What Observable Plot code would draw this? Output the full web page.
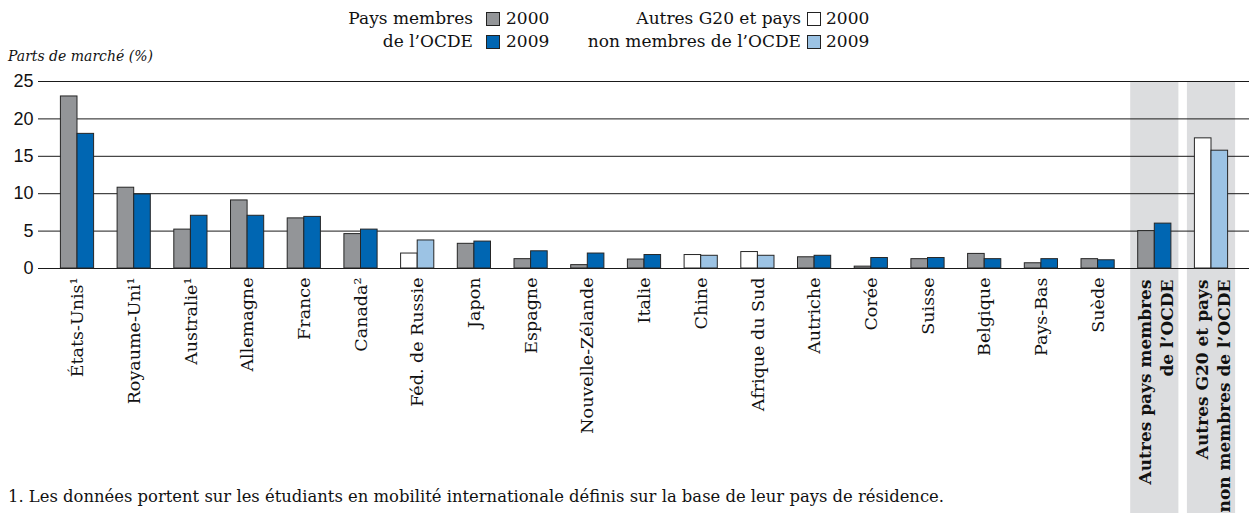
<!DOCTYPE html>
<html>
<head>
<meta charset="utf-8">
<script src="https://cdn.jsdelivr.net/npm/d3@7"></script>
<script src="https://cdn.jsdelivr.net/npm/@observablehq/plot@0.6"></script>
<style>
  html, body { margin: 0; padding: 0; background: #fff; }
  #wrap { position: relative; width: 1249px; height: 515px; font-family: "DejaVu Serif", serif; color: #111; }
  #wrap svg { position: absolute; left: 0; top: 0; }
  .ov { position: absolute; white-space: nowrap; }
  .sw { position: absolute; width: 12px; height: 12px; border: 1px solid #222; box-sizing: content-box; }
</style>
</head>
<body>
<div id="wrap"></div>
<script>
// ---- Data ----
const categories = [
  "États-Unis¹", "Royaume-Uni¹", "Australie¹", "Allemagne", "France", "Canada²",
  "Féd. de Russie", "Japon", "Espagne", "Nouvelle-Zélande", "Italie", "Chine",
  "Afrique du Sud", "Autriche", "Corée", "Suisse", "Belgique", "Pays-Bas", "Suède",
  "Autres pays membres\nde l’OCDE", "Autres G20 et pays\nnon membres de l’OCDE"
];
const values2000 = [23.0, 10.8, 5.2, 9.1, 6.7, 4.6, 2.0, 3.3, 1.25, 0.45, 1.2, 1.8, 2.2, 1.5, 0.25, 1.25, 1.95, 0.7, 1.25, 5.0, 17.4];
const values2009 = [18.0, 9.9, 7.05, 7.05, 6.9, 5.2, 3.75, 3.6, 2.3, 2.0, 1.8, 1.7, 1.7, 1.7, 1.4, 1.4, 1.25, 1.25, 1.1, 6.0, 15.75];
const nonMembers = ["Féd. de Russie", "Chine", "Afrique du Sud", "Autres G20 et pays\nnon membres de l’OCDE"];
const aggregates = ["Autres pays membres\nde l’OCDE", "Autres G20 et pays\nnon membres de l’OCDE"];
const yTicks = [0, 5, 10, 15, 20, 25];
const legendGroups = [
  {label: "Pays membres\nde l’OCDE", years: ["2000", "2009"], colors: ["#939598", "#0066b2"]},
  {label: "Autres G20 et pays\nnon membres de l’OCDE", years: ["2000", "2009"], colors: ["#ffffff", "#9cc3e4"]}
];
const yTitle = "Parts de marché (%)";
const footnote = "1. Les données portent sur les étudiants en mobilité internationale définis sur la base de leur pays de résidence.";

// ---- Build rows ----
const rows = categories.map((c, i) => ({cat: c, v2000: values2000[i], v2009: values2009[i], member: !nonMembers.includes(c)}));
const members = rows.filter(d => d.member);
const others = rows.filter(d => !d.member);
const countries = categories.filter(c => !aggregates.includes(c));

const stroke = "#262626";
const bw = 48.2, bar = 16.6, side = bw / 2 - bar;

const chart = Plot.plot({
  width: 1249,
  height: 515,
  marginTop: 81,
  marginBottom: 247,
  marginLeft: 38,
  marginRight: 0,
  x: {domain: categories, range: [44.4, 1243.6], padding: 0.15, round: false, axis: null},
  y: {domain: [0, 25], axis: null},
  style: {fontFamily: "DejaVu Serif, serif", background: "transparent", overflow: "visible", color: "#111"},
  marks: [
    Plot.barY(aggregates, {x: d => d, y1: 0, y2: 25, fill: "#dcdddf", insetBottom: -245}),
    Plot.ruleY(yTicks, {stroke: "#1a1a1a", strokeWidth: 1}),
    Plot.barY(members, {x: "cat", y: "v2000", fill: "#939598", stroke, strokeWidth: 1, insetLeft: side, insetRight: bw / 2}),
    Plot.barY(members, {x: "cat", y: "v2009", fill: "#0066b2", stroke, strokeWidth: 1, insetLeft: bw / 2, insetRight: side}),
    Plot.barY(others, {x: "cat", y: "v2000", fill: "#ffffff", stroke, strokeWidth: 1, insetLeft: side, insetRight: bw / 2}),
    Plot.barY(others, {x: "cat", y: "v2009", fill: "#9cc3e4", stroke, strokeWidth: 1, insetLeft: bw / 2, insetRight: side}),
    Plot.text(yTicks, {y: d => d, text: d => String(d), frameAnchor: "left", textAnchor: "end", dx: -5, fontSize: 18, fontFamily: "Liberation Sans, Arial, sans-serif", fill: "#111"}),
    Plot.text(countries, {x: d => d, text: d => d, frameAnchor: "bottom", rotate: -90, textAnchor: "end", lineAnchor: "middle", dy: 9, fontSize: 17.5, fill: "#111"}),
    Plot.text(aggregates, {x: d => d, text: d => d, frameAnchor: "bottom", rotate: -90, textAnchor: "end", lineAnchor: "middle", dy: 11, fontSize: 17, fontWeight: "bold", lineHeight: 1.3, fill: "#111"})
  ]
});

const wrap = document.getElementById("wrap");
wrap.appendChild(chart);

// ---- Overlays: legend, y title, footnote ----
function addDiv(html, css) {
  const d = document.createElement("div");
  d.className = "ov";
  d.innerHTML = html;
  Object.assign(d.style, css);
  wrap.appendChild(d);
  return d;
}
const legendPos = [
  {textRight: 473, swX: 486, yearX: 506},
  {textRight: 801, swX: 807, yearX: 826}
];
legendGroups.forEach((g, i) => {
  const p = legendPos[i];
  addDiv(g.label.replace("\n", "<br>"), {right: (1249 - p.textRight) + "px", top: "7px", textAlign: "right", fontSize: "17px", lineHeight: "23px"});
  g.years.forEach((y, j) => {
    const s = document.createElement("div");
    s.className = "sw";
    Object.assign(s.style, {left: p.swX + "px", top: (12 + j * 23) + "px", background: g.colors[j]});
    wrap.appendChild(s);
    addDiv(y, {left: p.yearX + "px", top: (7 + j * 23) + "px", fontSize: "17px", lineHeight: "23px"});
  });
});
addDiv(yTitle, {left: "8px", top: "46px", fontSize: "14px", fontStyle: "italic", lineHeight: "20px"});
addDiv(footnote, {left: "8px", top: "486px", fontSize: "16.4px", lineHeight: "22px"});
</script>
</body>
</html>
